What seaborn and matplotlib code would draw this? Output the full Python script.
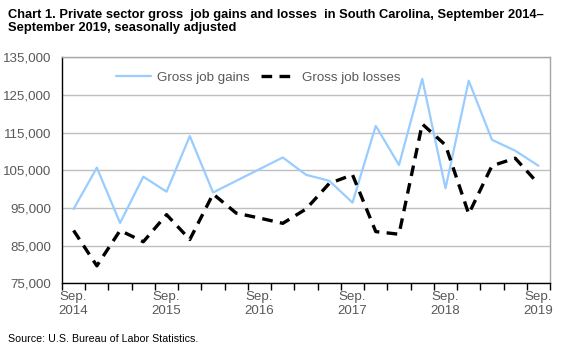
import numpy as np
import pandas as pd
import matplotlib
matplotlib.use("Agg")
import matplotlib.pyplot as plt
import seaborn as sns

# Quarterly values, Sep 2014 .. Sep 2019
quarters = [
    "Sep 2014", "Dec 2014", "Mar 2015", "Jun 2015", "Sep 2015", "Dec 2015", "Mar 2016",
    "Jun 2016", "Sep 2016", "Dec 2016", "Mar 2017", "Jun 2017", "Sep 2017", "Dec 2017",
    "Mar 2018", "Jun 2018", "Sep 2018", "Dec 2018", "Mar 2019", "Jun 2019", "Sep 2019",
]
gains = [94700, 105700, 91000, 103300, 99300, 114100, 99100, 102200, 105300, 108400,
         103800, 102200, 96400, 116800, 106400, 129300, 100200, 128800, 113100, 110200,
         106200]
losses = [89000, 79600, 89000, 86000, 93200, 86600, 98700, 93600, 92300, 90900,
          94700, 101500, 103800, 88700, 88000, 117300, 111700, 93400, 106200, 108200,
          101400]
tick_labels = ["Sep.\n2014", "Sep.\n2015", "Sep.\n2016", "Sep.\n2017", "Sep.\n2018", "Sep.\n2019"]

df = pd.DataFrame({"pos": np.arange(len(quarters)), "quarter": quarters,
                   "gains": gains, "losses": losses})

sns.set_theme(style="white")
plt.rcParams["font.family"] = ["Liberation Sans", "DejaVu Sans"]

fig = plt.figure(figsize=(5.76, 3.5), dpi=100)
ax = fig.add_axes([0.1076, 0.191, 0.8474, 0.645])

sns.lineplot(data=df, x="pos", y="gains", ax=ax, color="#99CCFF", linewidth=1.6,
             label="Gross job gains")
sns.lineplot(data=df, x="pos", y="losses", ax=ax, color="black", linewidth=2.4,
             label="Gross job losses", dashes=False)
ax.lines[1].set_dashes([3.2, 2.2])

ax.set_xlim(-0.5, len(quarters) - 0.5)
ax.set_ylim(75000, 135000)
ax.set_yticks(np.arange(75000, 135001, 10000))
ax.set_yticklabels([f"{v:,}" for v in range(75000, 135001, 10000)])
ax.set_xticks(np.arange(0, len(quarters), 4))
ax.set_xticklabels(tick_labels)
ax.set_xticks(np.arange(-0.5, len(quarters), 1), minor=True)
ax.tick_params(axis="x", which="major", length=0, pad=6, labelsize=9.6, colors="#595959")
ax.tick_params(axis="x", which="minor", length=5, width=1, color="black", direction="out", bottom=True)
ax.tick_params(axis="y", length=0, pad=8, labelsize=9.6, colors="#595959")
ax.set_xlabel("")
ax.set_ylabel("")

ax.yaxis.grid(True, color="#BFBFBF", linewidth=1)
ax.xaxis.grid(False)
ax.set_axisbelow(True)
for s in ["left", "bottom"]:
    ax.spines[s].set_color("black")
    ax.spines[s].set_linewidth(1)
for s in ["top", "right"]:
    ax.spines[s].set_color("#A6A6A6")
    ax.spines[s].set_linewidth(1)

leg = ax.legend(loc="center left", bbox_to_anchor=(0.1, 0.91), ncol=2, frameon=False,
                fontsize=9.6, handlelength=2.6, handletextpad=0.5, columnspacing=0.8,
                borderaxespad=0)
for t in leg.get_texts():
    t.set_color("#595959")

fig.text(0.014, 0.975, "Chart 1. Private sector gross  job gains and losses  in South Carolina, September 2014\u2013\n"
         "September 2019, seasonally adjusted", ha="left", va="top", fontsize=9.3,
         fontweight="bold", color="black", linespacing=1.1)
fig.text(0.014, 0.03, "Source: U.S. Bureau of Labor Statistics.", ha="left", va="center",
         fontsize=7.7, color="black")

fig.savefig("out.png", dpi=100)
